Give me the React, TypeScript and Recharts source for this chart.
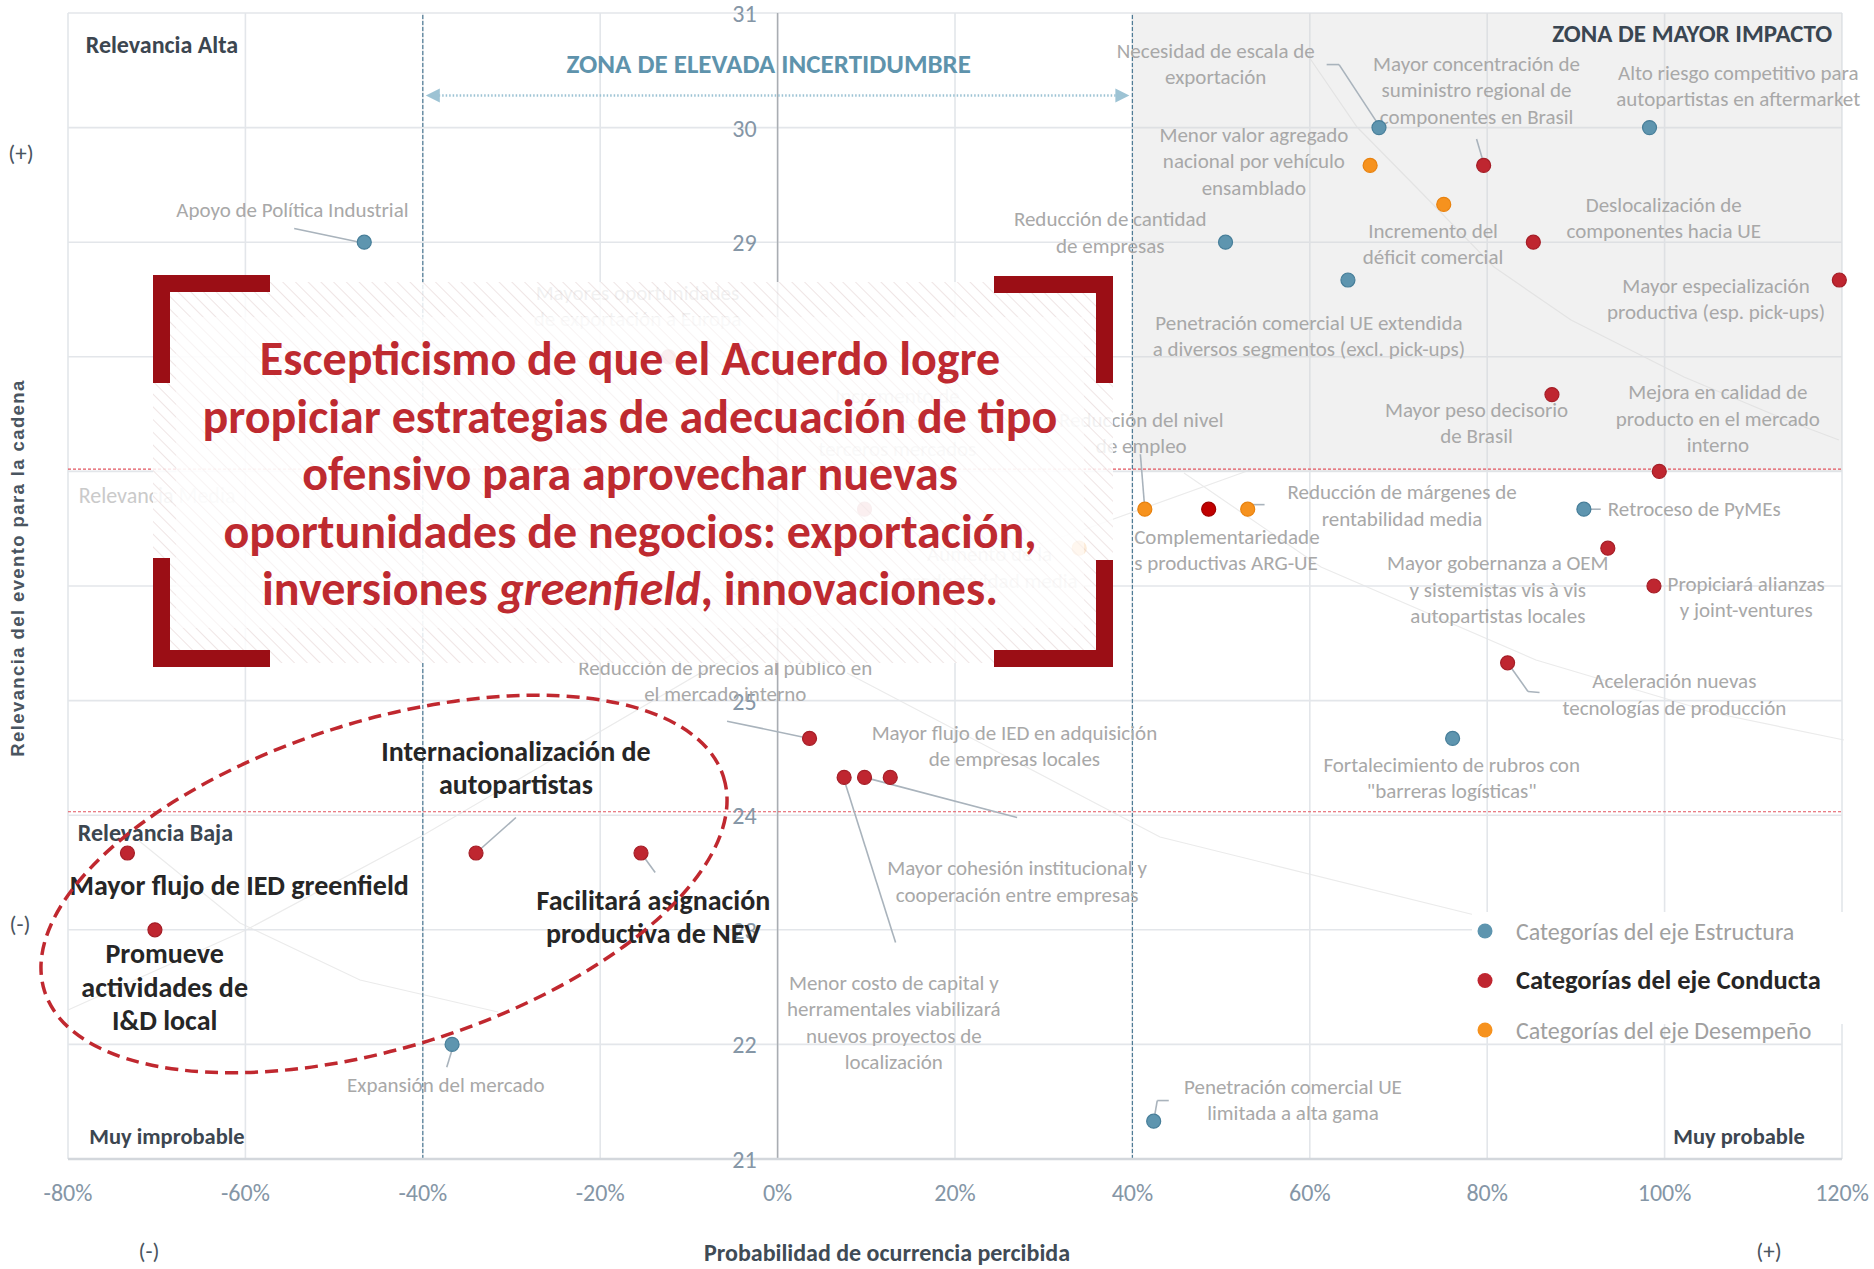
import React from 'react'
import {
  ScatterChart,
  Scatter,
  XAxis,
  YAxis,
  CartesianGrid,
  ReferenceLine,
  ReferenceArea,
} from 'recharts'

const FONT = "Carlito, 'Liberation Sans Narrow', 'Arial Narrow', Roboto, sans-serif"
const W = 1874
const H = 1269

const xTicks = [-80, -60, -40, -20, 0, 20, 40, 60, 80, 100, 120]
const yTicks = [21, 22, 23, 24, 25, 26, 27, 28, 29, 30, 31]

// Categorías del eje Estructura
const estructura = [
  { name: 'Apoyo de Política Industrial', x: -46.6, y: 29.0 },
  { name: 'Necesidad de escala de exportación', x: 67.8, y: 30.0 },
  { name: 'Alto riesgo competitivo para autopartistas en aftermarket', x: 98.3, y: 30.0 },
  { name: 'Reducción de cantidad de empresas', x: 50.5, y: 29.0 },
  { name: 'Penetración comercial UE extendida', x: 64.3, y: 28.67 },
  { name: 'Retroceso de PyMEs', x: 90.9, y: 26.67 },
  { name: 'Fortalecimiento de rubros con "barreras logísticas"', x: 76.1, y: 24.67 },
  { name: 'Expansión del mercado', x: -36.7, y: 22.0 },
  { name: 'Penetración comercial UE limitada a alta gama', x: 42.4, y: 21.33 },
]

// Categorías del eje Conducta
const conducta = [
  { name: 'Mayor concentración de suministro regional', x: 79.6, y: 29.67 },
  { name: 'Deslocalización de componentes hacia UE', x: 85.2, y: 29.0 },
  { name: 'Mayor especialización productiva', x: 119.7, y: 28.67 },
  { name: 'Mayor peso decisorio de Brasil', x: 87.3, y: 27.67 },
  { name: 'Mejora en calidad de producto', x: 99.4, y: 27.0 },
  { name: 'Mayor gobernanza a OEM', x: 93.6, y: 26.33 },
  { name: 'Propiciará alianzas y joint-ventures', x: 98.8, y: 26.0 },
  { name: 'Aceleración nuevas tecnologías', x: 82.3, y: 25.33 },
  { name: 'Reducción de precios al público', x: 3.6, y: 24.67 },
  { name: 'Menor costo de capital', x: 7.5, y: 24.33 },
  { name: 'Mayor cohesión institucional', x: 9.8, y: 24.33 },
  { name: 'Mayor flujo de IED en adquisición', x: 12.7, y: 24.33 },
  { name: 'Mayores oportunidades de exportación a Europa', x: -12.3, y: 28.0 },
  { name: 'Incremento de exportaciones a terceros mercados', x: 9.8, y: 26.67 },
  { name: 'Mayor flujo de IED greenfield', x: -73.3, y: 23.67 },
  { name: 'Internacionalización de autopartistas', x: -34.0, y: 23.67 },
  { name: 'Facilitará asignación productiva de NEV', x: -15.4, y: 23.67 },
  { name: 'Promueve actividades de I&D local', x: -70.2, y: 23.0 },
]
const conductaDestacada = [{ name: 'Complementariedades productivas ARG-UE', x: 48.6, y: 26.67 }]

// Categorías del eje Desempeño
const desempeno = [
  { name: 'Menor valor agregado nacional por vehículo', x: 66.8, y: 29.67 },
  { name: 'Incremento del déficit comercial', x: 75.1, y: 29.33 },
  { name: 'Reducción del nivel de empleo', x: 41.4, y: 26.67 },
  { name: 'Reducción de márgenes de rentabilidad', x: 53.0, y: 26.67 },
  { name: 'Aumento de la productividad media', x: 34.0, y: 26.33 },
]

type Note = { x: number; y: number; lines: string[]; anchor?: 'start' | 'middle' | 'end'; kind?: string }

const notes: Note[] = [
  { x: -54.7, y: 29.28, lines: ['Apoyo de Política Industrial'] },
  { x: 49.4, y: 30.67, lines: ['Necesidad de escala de', 'exportación'] },
  { x: 78.8, y: 30.56, lines: ['Mayor concentración de', 'suministro regional de', 'componentes en Brasil'] },
  { x: 108.3, y: 30.48, lines: ['Alto riesgo competitivo para', 'autopartistas en aftermarket'] },
  { x: 53.7, y: 29.94, lines: ['Menor valor agregado', 'nacional por vehículo', 'ensamblado'] },
  { x: 37.5, y: 29.2, lines: ['Reducción de cantidad', 'de empresas'] },
  { x: 73.9, y: 29.1, lines: ['Incremento del', 'déficit comercial'] },
  { x: 99.9, y: 29.33, lines: ['Deslocalización de', 'componentes hacia UE'] },
  { x: 105.8, y: 28.62, lines: ['Mayor especialización', 'productiva (esp. pick-ups)'] },
  { x: 59.9, y: 28.3, lines: ['Penetración comercial UE extendida', 'a diversos segmentos (excl. pick-ups)'] },
  { x: 78.8, y: 27.54, lines: ['Mayor peso decisorio', 'de Brasil'] },
  { x: 106, y: 27.69, lines: ['Mejora en calidad de', 'producto en el mercado', 'interno'] },
  { x: 41, y: 27.45, lines: ['Reducción del nivel', 'de empleo'] },
  { x: 70.4, y: 26.82, lines: ['Reducción de márgenes de', 'rentabilidad media'] },
  { x: 40.2, y: 26.43, lines: ['Complementariedade', 's productivas ARG-UE'], anchor: 'start' },
  { x: 93.6, y: 26.67, lines: ['Retroceso de PyMEs'], anchor: 'start' },
  { x: 81.2, y: 26.2, lines: ['Mayor gobernanza a OEM', 'y sistemistas vis à vis', 'autopartistas locales'] },
  { x: 109.2, y: 26.02, lines: ['Propiciará alianzas', 'y joint-ventures'] },
  { x: 101.1, y: 25.17, lines: ['Aceleración nuevas', 'tecnologías de producción'] },
  { x: 76, y: 24.44, lines: ['Fortalecimiento de rubros con', '"barreras logísticas"'] },
  { x: -5.9, y: 25.29, lines: ['Reducción de precios al público en', 'el mercado interno'] },
  { x: 26.7, y: 24.72, lines: ['Mayor flujo de IED en adquisición', 'de empresas locales'] },
  { x: 27, y: 23.54, lines: ['Mayor cohesión institucional y', 'cooperación entre empresas'] },
  { x: 13.1, y: 22.54, lines: ['Menor costo de capital y', 'herramentales viabilizará', 'nuevos proyectos de', 'localización'] },
  { x: -37.4, y: 21.65, lines: ['Expansión del mercado'] },
  { x: 58.1, y: 21.63, lines: ['Penetración comercial UE', 'limitada a alta gama'] },
  { x: -15.8, y: 28.56, lines: ['Mayores oportunidades', 'de exportación a Europa'] },
  { x: 13.5, y: 27.66, lines: ['Incremento de', 'exportaciones a', 'terceros mercados'] },
  { x: 23.9, y: 26.28, lines: ['Aumento de la', 'productividad media'] },
]

const boldNotes: Note[] = [
  { x: -29.5, y: 24.56, lines: ['Internacionalización de', 'autopartistas'] },
  { x: -60.7, y: 23.39, lines: ['Mayor flujo de IED greenfield'] },
  { x: -14, y: 23.26, lines: ['Facilitará asignación', 'productiva de NEV'] },
  { x: -69.1, y: 22.79, lines: ['Promueve', 'actividades de', 'I&D local'] },
]

const zoneLabels: Note[] = [
  { x: -78, y: 30.72, lines: ['Relevancia Alta'], anchor: 'start', kind: 'quad' },
  { x: -78.8, y: 26.79, lines: ['Relevancia Media'], anchor: 'start', kind: 'light' },
  { x: -78.9, y: 23.85, lines: ['Relevancia Baja'], anchor: 'start', kind: 'quad' },
  { x: -77.6, y: 21.2, lines: ['Muy improbable'], anchor: 'start', kind: 'corner' },
  { x: 115.8, y: 21.2, lines: ['Muy probable'], anchor: 'end', kind: 'corner' },
  { x: 118.9, y: 30.82, lines: ['ZONA DE MAYOR IMPACTO'], anchor: 'end', kind: 'impact' },
  { x: -1, y: 30.56, lines: ['ZONA DE ELEVADA INCERTIDUMBRE'], anchor: 'middle', kind: 'uncertain' },
]

// leader lines, in data units
const leaders: { x: number; y: number }[][] = [
  [{ x: -54.5, y: 29.12 }, { x: -47.1, y: 29.0 }],
  [{ x: 61.9, y: 30.55 }, { x: 63.3, y: 30.55 }],
  [{ x: 63.3, y: 30.55 }, { x: 67.7, y: 30.03 }],
  [{ x: 78.8, y: 29.9 }, { x: 79.6, y: 29.69 }],
  [{ x: 40.9, y: 27.15 }, { x: 41.4, y: 26.67 }],
  [{ x: 53.3, y: 26.71 }, { x: 54.9, y: 26.71 }],
  [{ x: 90.9, y: 26.67 }, { x: 92.8, y: 26.67 }],
  [{ x: 82.3, y: 25.33 }, { x: 84.6, y: 25.08 }],
  [{ x: 84.6, y: 25.08 }, { x: 85.9, y: 25.07 }],
  [{ x: -5.7, y: 24.82 }, { x: 3.6, y: 24.67 }],
  [{ x: 9.8, y: 24.33 }, { x: 27.0, y: 23.98 }],
  [{ x: 7.5, y: 24.31 }, { x: 13.3, y: 22.89 }],
  [{ x: -36.6, y: 21.98 }, { x: -37.3, y: 21.8 }],
  [{ x: 42.4, y: 21.33 }, { x: 42.8, y: 21.51 }],
  [{ x: 42.8, y: 21.51 }, { x: 44.1, y: 21.51 }],
  [{ x: -29.5, y: 23.98 }, { x: -34.0, y: 23.67 }],
  [{ x: -15.4, y: 23.67 }, { x: -13.8, y: 23.5 }],
]

const arrowHeads = [
  { x: -40, y: 30.28, dir: -1 },
  { x: 40, y: 30.28, dir: 1 },
]

const legendItems = [
  { label: 'Categorías del eje Estructura', color: '#5E95AF', bold: false },
  { label: 'Categorías del eje Conducta', color: '#BF2630', bold: true },
  { label: 'Categorías del eje Desempeño', color: '#F6921E', bold: false },
]

const titleLines = [
  'Escepticismo de que el Acuerdo logre',
  'propiciar estrategias de adecuación de tipo',
  'ofensivo para aprovechar nuevas',
  'oportunidades de negocios: exportación,',
]

const faintCurves = [
  [[1309, 57], [1357, 127], [1416, 187], [1494, 267], [1571, 320], [1684, 377], [1786, 420], [1839, 440]],
  [[1184, 473], [1321, 567], [1536, 660], [1714, 713], [1844, 740]],
  [[847, 673], [1160, 837], [1503, 922]],
  [[68, 1010], [246, 930], [420, 837], [779, 627], [1083, 530], [1250, 470]],
  [[138, 840], [240, 923], [360, 980], [498, 1012]],
]

const dotShape = (fill: string, stroke: string) => (p: any) => (
  <circle cx={p.cx} cy={p.cy} r={7} fill={fill} stroke={stroke} strokeWidth={1.2} />
)

const textShape = (size: number, weight: number, color: string, lh: number) => (p: any) => {
  const d: Note = p.payload
  return (
    <text textAnchor={d.anchor ?? 'middle'} fontFamily={FONT} fontSize={size} fontWeight={weight} fill={color}>
      {d.lines.map((l, i) => (
        <tspan key={i} x={p.cx} y={p.cy + i * lh + size * 0.34}>
          {l}
        </tspan>
      ))}
    </text>
  )
}

const zoneStyle: Record<string, { size: number; weight: number; color: string }> = {
  quad: { size: 24, weight: 700, color: '#3C4650' },
  corner: { size: 22.5, weight: 700, color: '#3C4650' },
  light: { size: 22, weight: 400, color: '#CACACA' },
  impact: { size: 25, weight: 700, color: '#3A4652' },
  uncertain: { size: 27, weight: 700, color: '#5E93AC' },
}

const zoneShape = (p: any) => {
  const d: Note = p.payload
  const s = zoneStyle[d.kind ?? 'quad']
  return (
    <text x={p.cx} y={p.cy + s.size * 0.34} textAnchor={d.anchor} fontFamily={FONT} fontSize={s.size} fontWeight={s.weight} fill={s.color}>
      {d.lines[0]}
    </text>
  )
}

const yTickShape = (p: any) => (
  <text x={p.cx - 21} y={p.cy + 9} textAnchor="end" fontFamily={FONT} fontSize={24} fill="#8596A6">
    {p.payload.y}
  </text>
)

const arrowShape = (p: any) => {
  const d = p.payload.dir
  const tip = p.cx - d * 3
  return (
    <polygon
      points={`${tip},${p.cy} ${tip - d * 14},${p.cy - 7} ${tip - d * 14},${p.cy + 7}`}
      fill="#9DC3D4"
    />
  )
}

export default function App() {
  return (
    <div style={{ position: 'relative', width: W, height: H, background: '#fff', fontFamily: FONT }}>
      <style>{'body{margin:0}'}</style>
      <svg width={W} height={H} style={{ position: 'absolute', left: 0, top: 0 }}>
        {faintCurves.map((c, i) => (
          <polyline key={i} points={c.map((q) => q.join(',')).join(' ')} fill="none" stroke="#EBEBEB" strokeWidth={1.2} />
        ))}
      </svg>
      <div style={{ position: 'relative' }}>
        <ScatterChart width={W} height={H} margin={{ top: 13, right: 32, bottom: 0, left: 68 }}>
          <ReferenceArea x1={40} x2={120} y1={27} y2={31} fill="#D6D6D6" fillOpacity={0.33} stroke="none" />
          <CartesianGrid stroke="#E3E6EA" strokeWidth={1.6} />
          <XAxis
            type="number"
            dataKey="x"
            domain={[-80, 120]}
            ticks={xTicks}
            interval={0}
            tickFormatter={(v) => `${v}%`}
            tick={{ fill: '#8596A6', fontSize: 24, fontFamily: FONT }}
            tickLine={false}
            tickMargin={19}
            axisLine={{ stroke: '#D3D7DC', strokeWidth: 2.5 }}
            height={110}
          />
          <YAxis type="number" dataKey="y" domain={[21, 31]} ticks={yTicks} hide />
          <ReferenceLine x={0} stroke="#A9ADB2" strokeWidth={1.5} />
          <ReferenceLine x={-40} stroke="#4F7C96" strokeWidth={1.2} strokeDasharray="4 2" />
          <ReferenceLine x={40} stroke="#4F7C96" strokeWidth={1.2} strokeDasharray="4 2" />
          <ReferenceLine y={27.02} stroke="#E25560" strokeWidth={1.2} strokeDasharray="3 2" />
          <ReferenceLine y={24.03} stroke="#E25560" strokeWidth={1.2} strokeDasharray="3 2" />
          <ReferenceLine
            segment={[{ x: -39, y: 30.28 }, { x: 39, y: 30.28 }]}
            stroke="#9DC3D4"
            strokeWidth={2.5}
            strokeDasharray="1.5 2"
          />
          {leaders.map((s, i) => (
            <ReferenceLine key={i} segment={s} stroke="#A9B3BC" strokeWidth={1.6} />
          ))}
          <Scatter data={arrowHeads} shape={arrowShape} isAnimationActive={false} />
          <Scatter data={yTicks.map((v) => ({ x: 0, y: v }))} shape={yTickShape} isAnimationActive={false} />
          <Scatter data={zoneLabels} shape={zoneShape} isAnimationActive={false} />
          <Scatter data={notes} shape={textShape(21, 400, '#A8A8A8', 26.5)} isAnimationActive={false} />
          <Scatter data={boldNotes} shape={textShape(28, 700, '#262626', 33.5)} isAnimationActive={false} />
          <Scatter data={estructura} shape={dotShape('#5E95AF', '#477E99')} isAnimationActive={false} />
          <Scatter data={conducta} shape={dotShape('#BF2630', '#A51E27')} isAnimationActive={false} />
          <Scatter data={conductaDestacada} shape={dotShape('#C00000', '#A00000')} isAnimationActive={false} />
          <Scatter data={desempeno} shape={dotShape('#F6921E', '#E8820F')} isAnimationActive={false} />
        </ScatterChart>
      </div>
      <svg width={W} height={H} style={{ position: 'absolute', left: 0, top: 0, pointerEvents: 'none' }}>
        <defs>
          <pattern id="hatch" width="9" height="9" patternUnits="userSpaceOnUse" patternTransform="rotate(-45)">
            <rect width="9" height="9" fill="rgba(255,255,255,0.84)" />
            <line x1="0" y1="0" x2="0" y2="9" stroke="rgba(210,180,180,0.35)" strokeWidth="2" />
          </pattern>
        </defs>
        {/* legend */}
        <rect x={1472} y={912} width={376} height={112} fill="#fff" />
        {legendItems.map((it, i) => (
          <g key={it.label}>
            <circle cx={1485} cy={931 + i * 49.5} r={7.5} fill={it.color} />
            <text
              x={1516}
              y={931 + i * 49.5 + 8.5}
              fontSize={it.bold ? 26.5 : 24}
              fontWeight={it.bold ? 700 : 400}
              fill={it.bold ? '#262626' : '#A0A0A0'}
              fontFamily={FONT}
            >
              {it.label}
            </text>
          </g>
        ))}
        {/* ellipse */}
        <ellipse
          cx={384}
          cy={884}
          rx={356}
          ry={163}
          transform="rotate(-17.5 384 884)"
          fill="none"
          stroke="#C0282F"
          strokeWidth={3.5}
          strokeDasharray="13 7"
        />
        {/* title box */}
        <rect x={153} y={282} width={960} height={381} fill="url(#hatch)" />
        <rect x={176} y={317} width={908} height={311} fill="rgba(255,255,255,0.55)" />
        <g fill="none" stroke="#9B0E15" strokeWidth={17}>
          <polyline points="270,283.5 161.5,283.5 161.5,383" />
          <polyline points="161.5,558 161.5,658.5 270,658.5" />
          <polyline points="994,284.5 1104.5,284.5 1104.5,383" />
          <polyline points="1104.5,560 1104.5,658.5 994,658.5" />
        </g>
        <g fontFamily={FONT} fontSize={48} fontWeight={700} fill="#BE2A30" textAnchor="middle">
          {titleLines.map((l, i) => (
            <text key={i} x={630} y={375 + i * 57.5}>
              {l}
            </text>
          ))}
          <text x={630} y={375 + 4 * 57.5}>
            inversiones <tspan fontStyle="italic">greenfield</tspan>, innovaciones.
          </text>
        </g>
        {/* axis titles */}
        <text
          x={17}
          y={568}
          transform="rotate(-90 17 568)"
          textAnchor="middle"
          dominantBaseline="central"
          fontFamily="'Liberation Sans', Arial, sans-serif"
          fontSize={18.5}
          fontWeight={700}
          letterSpacing={1.4}
          fill="#4A5560"
        >
          Relevancia del evento para la cadena
        </text>
        <g fontFamily={FONT} fontSize={23} fill="#4A5560" textAnchor="middle">
          <text x={21} y={161}>(+)</text>
          <text x={20} y={932}>(-)</text>
          <text x={149} y={1259}>(-)</text>
          <text x={1769} y={1259}>(+)</text>
        </g>
        <text x={887} y={1261} textAnchor="middle" fontFamily={FONT} fontSize={24} fontWeight={700} fill="#404B55">
          Probabilidad de ocurrencia percibida
        </text>
      </svg>
    </div>
  )
}
